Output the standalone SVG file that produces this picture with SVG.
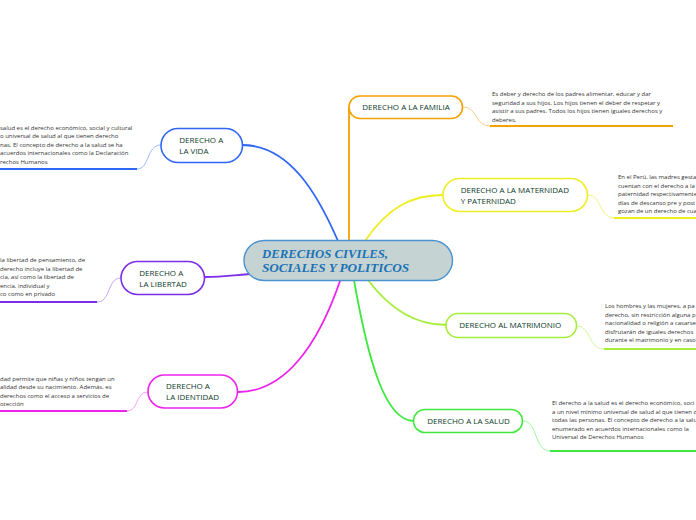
<svg xmlns="http://www.w3.org/2000/svg" width="696" height="520" viewBox="0 0 696 520">
<style>
.lbl{font-family:"Open Sans","Noto Sans","Liberation Sans",sans-serif;font-size:8px;fill:#0c3a2a}
.desc{font-family:"Open Sans","Noto Sans","Liberation Sans",sans-serif;font-size:6px;fill:#333333}
.node{fill:#ffffff;stroke-width:1.6}
.c{fill:none;stroke-width:1.8;stroke-linecap:round}
.s{fill:none;stroke-width:1}
.u{fill:none;stroke-width:2}
</style>
<rect width="696" height="520" fill="#ffffff"/>
<g id="connectors">
  <path class="c" stroke="#2f66f5" d="M242,145 C290,145 318,195 338,241"/>
  <path class="c" stroke="#f5a100" d="M349,241 L349,108"/>
  <path class="c" stroke="#eeee22" d="M365,241 C388,207 412,195 443,195"/>
  <path class="c" stroke="#a5ee3a" d="M368,280 C392,312 418,325 446,325"/>
  <path class="c" stroke="#3ee83e" d="M354,280 C368,360 385,421 414,421"/>
  <path class="c" stroke="#ee22ee" d="M340,281 C318,345 285,392 238,392"/>
  <path class="c" stroke="#7b2ee8" d="M204,277 C222,277 236,275 250,274"/>
  <path class="s" stroke="#9fb8ff" d="M161,145 C146,145 150,169 137,169"/>
  <path class="u" stroke="#2f66f5" d="M137,169 H0"/>
  <path class="s" stroke="#c4a5f7" d="M121,278 C107,278 111,302 97,302"/>
  <path class="u" stroke="#7b2ee8" d="M97,302 H0"/>
  <path class="s" stroke="#f7a5f7" d="M148,392 C135,392 139,411 127,411"/>
  <path class="u" stroke="#ee22ee" d="M127,411 H0"/>
  <path class="s" stroke="#fbd08a" d="M463,107 C478,107 474,126 490,126"/>
  <path class="u" stroke="#f5a100" d="M490,126 H673"/>
  <path class="s" stroke="#f5f580" d="M588,195 C602,195 599,218 614,218"/>
  <path class="u" stroke="#eeee22" d="M614,218 H696"/>
  <path class="s" stroke="#cdf79a" d="M577,326 C591,326 588,349 604,349"/>
  <path class="u" stroke="#a5ee3a" d="M604,349 H696"/>
  <path class="s" stroke="#9ff79f" d="M523,421 C538,421 534,451 550,451"/>
  <path class="u" stroke="#3ee83e" d="M550,451 H696"/>
</g>
<g id="central">
  <rect x="244" y="240.5" width="208.5" height="40" rx="20" fill="#c5d3d3" stroke="#4a93cf" stroke-width="1.4"/>
  <text x="262" y="258" font-family="'Liberation Serif',serif" font-size="13" font-weight="bold" font-style="italic" fill="#1a72b5" textLength="126" lengthAdjust="spacingAndGlyphs">DERECHOS CIVILES,</text>
  <text x="262" y="272" font-family="'Liberation Serif',serif" font-size="13" font-weight="bold" font-style="italic" fill="#1a72b5" textLength="147" lengthAdjust="spacingAndGlyphs">SOCIALES Y POLITICOS</text>
</g>
<g id="vida">
  <rect class="node" x="161" y="128.5" width="81.5" height="34" rx="17" stroke="#2f66f5"/>
  <text class="lbl" x="179.3" y="143">DERECHO A</text>
  <text class="lbl" x="179.3" y="154">LA VIDA</text>
  <text class="desc" x="0" y="129.5">salud es el derecho económico, social y cultural</text>
  <text class="desc" x="0" y="138.1">o universal de salud al que tienen derecho</text>
  <text class="desc" x="0" y="146.7">nas. El concepto de derecho a la salud se ha</text>
  <text class="desc" x="0" y="155.3">acuerdos internacionales como la Declaración</text>
  <text class="desc" x="0" y="163.9">rechos Humanos</text>
</g>
<g id="libertad">
  <rect class="node" x="121" y="261.5" width="83.5" height="33" rx="16.5" stroke="#7b2ee8"/>
  <text class="lbl" x="139.3" y="275.5">DERECHO A</text>
  <text class="lbl" x="139.3" y="286.5">LA LIBERTAD</text>
  <text class="desc" x="0" y="262">la libertad de pensamiento, de</text>
  <text class="desc" x="0" y="270.6">derecho incluye la libertad de</text>
  <text class="desc" x="0" y="279.2">cia, así como la libertad de</text>
  <text class="desc" x="0" y="287.8">encia, individual y</text>
  <text class="desc" x="0" y="296.4">co como en privado</text>
</g>
<g id="identidad">
  <rect class="node" x="148" y="375" width="89.5" height="33" rx="16.5" stroke="#ee22ee"/>
  <text class="lbl" x="166" y="389">DERECHO A</text>
  <text class="lbl" x="166" y="400">LA IDENTIDAD</text>
  <text class="desc" x="0" y="380.5">dad permite que niñas y niños tengan un</text>
  <text class="desc" x="0" y="389">alidad desde su nacimiento. Además, es</text>
  <text class="desc" x="0" y="397.5">derechos como el acceso a servicios de</text>
  <text class="desc" x="0" y="406">otección</text>
</g>
<g id="familia">
  <rect class="node" x="349" y="96" width="113.5" height="22.5" rx="11" stroke="#f5a100"/>
  <text class="lbl" x="362.3" y="109.7">DERECHO A LA FAMILIA</text>
  <text class="desc" x="492" y="96">Es deber y derecho de los padres alimentar, educar y dar</text>
  <text class="desc" x="492" y="104.5">seguridad a sus hijos. Los hijos tienen el deber de respetar y</text>
  <text class="desc" x="492" y="113">asistir a sus padres. Todos los hijos tienen iguales derechos y</text>
  <text class="desc" x="492" y="121.5">deberes.</text>
</g>
<g id="maternidad">
  <rect class="node" x="443" y="178.5" width="144.5" height="33" rx="16.5" stroke="#eeee22"/>
  <text class="lbl" x="460.7" y="192.5">DERECHO A LA MATERNIDAD</text>
  <text class="lbl" x="460.7" y="203.5">Y PATERNIDAD</text>
  <text class="desc" x="618" y="179">En el Perú, las madres gesta</text>
  <text class="desc" x="618" y="187.5">cuentan con el derecho a la</text>
  <text class="desc" x="618" y="196">paternidad respectivamente</text>
  <text class="desc" x="618" y="204.5">días de descanso pre y post</text>
  <text class="desc" x="618" y="213">gozan de un derecho de cua</text>
</g>
<g id="matrimonio">
  <rect class="node" x="446" y="313.5" width="130.5" height="24" rx="12" stroke="#a5ee3a"/>
  <text class="lbl" x="459.3" y="328.3">DERECHO AL MATRIMONIO</text>
  <text class="desc" x="605" y="308">Los hombres y las mujeres, a pa</text>
  <text class="desc" x="605" y="316.5">derecho, sin restricción alguna p</text>
  <text class="desc" x="605" y="325">nacionalidad o religión a casarse</text>
  <text class="desc" x="605" y="333.5">disfrutarán de iguales derechos</text>
  <text class="desc" x="605" y="342">durante el matrimonio y en caso</text>
</g>
<g id="salud">
  <rect class="node" x="413.5" y="409.5" width="109" height="23" rx="11.5" stroke="#3ee83e"/>
  <text class="lbl" x="427.3" y="424.3">DERECHO A LA SALUD</text>
  <text class="desc" x="552" y="405">El derecho a la salud es el derecho económico, soci</text>
  <text class="desc" x="552" y="413.5">a un nivel mínimo universal de salud al que tienen d</text>
  <text class="desc" x="552" y="422">todas las personas. El concepto de derecho a la salu</text>
  <text class="desc" x="552" y="430.5">enumerado en acuerdos internacionales como la</text>
  <text class="desc" x="552" y="439">Universal de Derechos Humanos</text>
</g>
</svg>
